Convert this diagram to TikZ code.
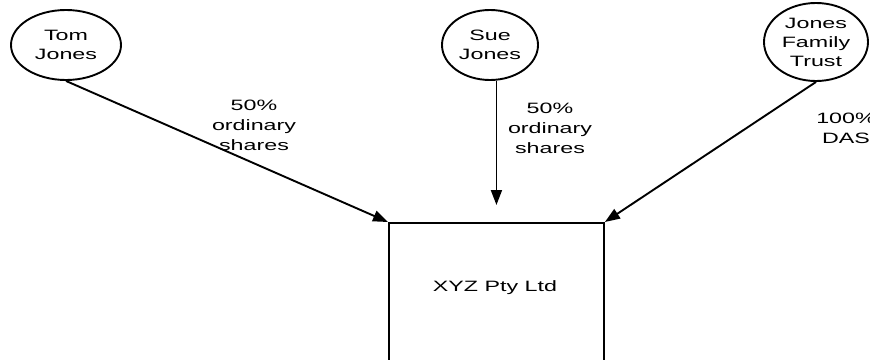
\documentclass[tikz,border=0pt]{standalone}
\usepackage{fontspec}
\setmainfont{Liberation Sans}[FakeStretch=1.55]
\usetikzlibrary{shapes.geometric,arrows.meta}
\begin{document}
\begin{tikzpicture}[x=1pt,y=-1pt,
  person/.style={ellipse, draw, line width=1.9pt, inner sep=0pt, align=center, font=\fontsize{15}{19}\selectfont},
  lbl/.style={align=center, font=\fontsize{15}{20}\selectfont, inner sep=0pt},
  company/.style={draw, line width=1.9pt, minimum width=215pt, minimum height=200pt, anchor=north west, inner sep=0pt},
  conn/.style={line width=1.9pt, -{Triangle[length=15pt,width=11pt]}}]
\useasboundingbox (0,0) rectangle (870,359);
\node[person, minimum width=110pt, minimum height=70pt] (tom) at (66,45) {Tom\\Jones};
\node[person, minimum width=96pt, minimum height=70pt] (sue) at (490,45) {Sue\\Jones};
\node[person, minimum width=104pt, minimum height=78pt] (trust) at (816,42) {Jones\\Family\\Trust};
\node[company] (xyz) at (388,222) {};
\node[lbl] (xyzt) at (495,288) {XYZ Pty Ltd};
\node[lbl] (l1) at (254,125) {50\%\\ordinary\\shares};
\node[lbl] (l2) at (550,128) {50\%\\ordinary\\shares};
\node[lbl] (l3) at (846,128) {100\%\\DAS};
\coordinate (suestart) at (sue.south -| xyz.north);
\coordinate (sueend) at (xyz.north |- 0,205);
\draw[conn] (tom.south) -- (xyz.north west);
\draw[conn] (suestart) -- (sueend);
\draw[conn] (trust.south) -- (xyz.north east);
\end{tikzpicture}
\end{document}
